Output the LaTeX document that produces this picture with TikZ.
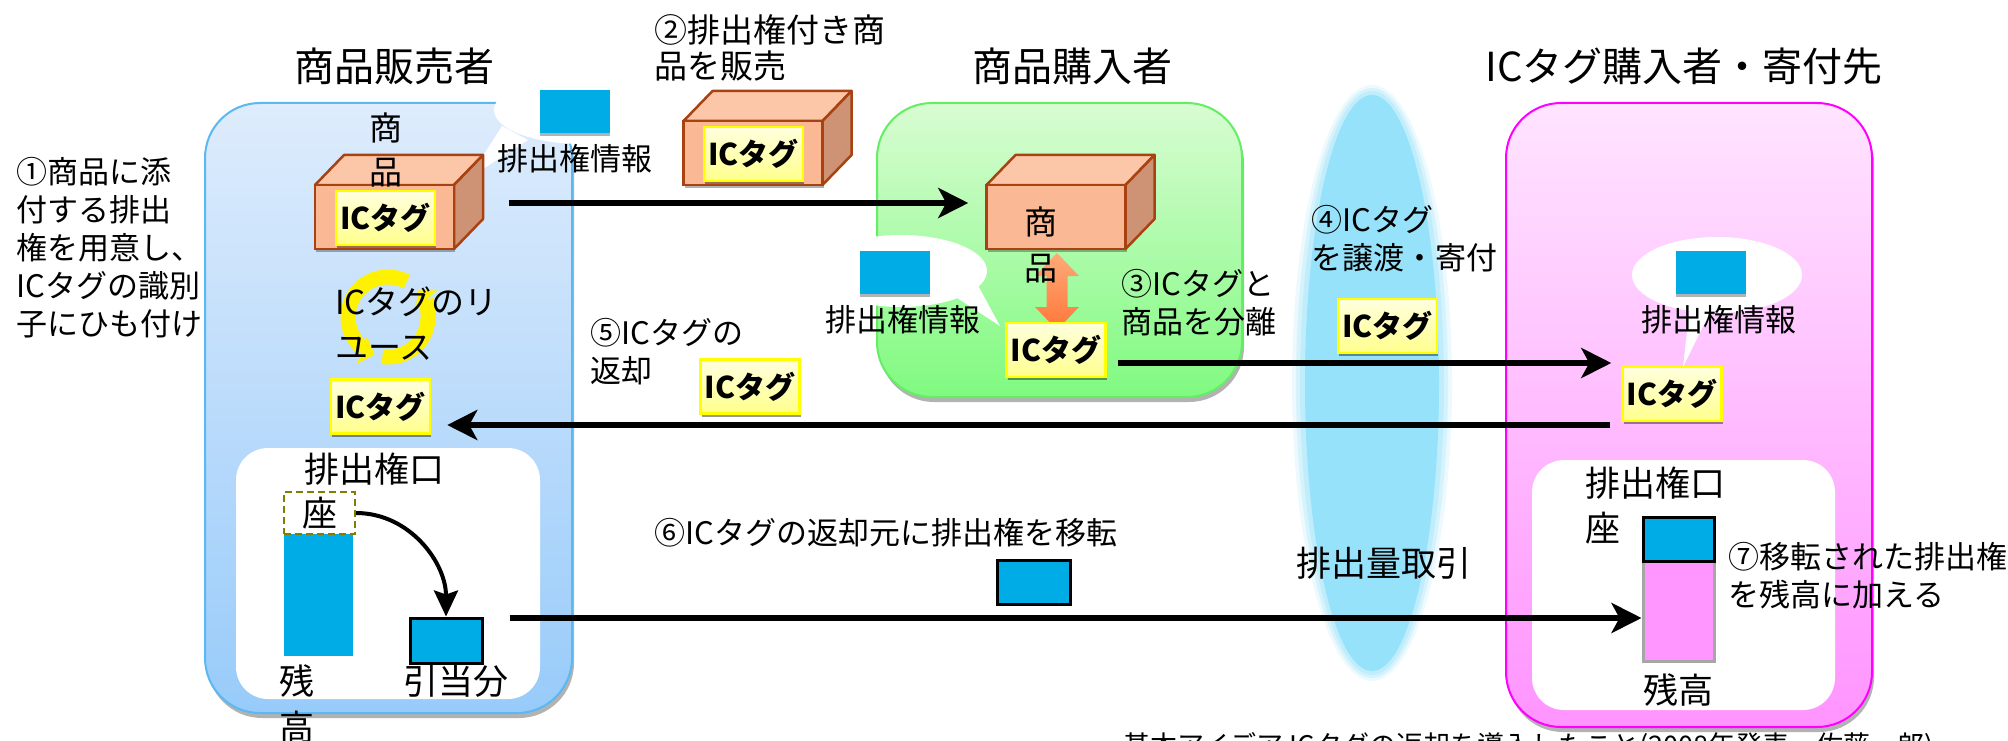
\documentclass[tikz,border=0pt]{standalone}
\usepackage{fontspec}
\setmainfont{Noto Sans CJK JP}
\usetikzlibrary{arrows.meta,shadows}

\definecolor{sellertop}{RGB}{222,236,252}
\definecolor{sellerbot}{RGB}{152,203,250}
\definecolor{selleredge}{RGB}{90,184,242}
\definecolor{buyertop}{RGB}{216,252,210}
\definecolor{buyerbot}{RGB}{128,250,128}
\definecolor{buyeredge}{RGB}{100,238,100}
\definecolor{donortop}{RGB}{255,228,255}
\definecolor{donorbot}{RGB}{255,148,255}
\definecolor{donoredge}{RGB}{255,0,255}
\definecolor{creditblue}{RGB}{0,172,230}
\definecolor{tagtop}{RGB}{255,255,222}
\definecolor{tagbot}{RGB}{255,255,140}
\definecolor{tagedge}{RGB}{255,255,0}
\definecolor{prodfront}{RGB}{251,184,148}
\definecolor{prodtop}{RGB}{252,198,168}
\definecolor{prodside}{RGB}{206,146,116}
\definecolor{prodedge}{RGB}{168,66,16}
\definecolor{market}{RGB}{150,226,250}
\definecolor{balancepink}{RGB}{255,150,255}
\definecolor{olivedash}{RGB}{128,128,0}
\definecolor{sepA}{RGB}{255,170,120}
\definecolor{sepB}{RGB}{255,118,58}

\newcommand\setfs[2]{\fontsize{#1}{#2}\selectfont}

\tikzset{
  party/.style={rounded corners=55pt, line width=2pt,
    drop shadow={shadow xshift=2pt, shadow yshift=-5pt, opacity=0.3, fill=black}},
  acctbox/.style={fill=white, rounded corners=32pt},
  heading/.style={font=\setfs{40}{44}, inner sep=0pt},
  lbl/.style={font=\setfs{31}{38}, inner sep=0pt, align=left, anchor=west},
  big/.style={font=\setfs{35}{45}, inner sep=0pt, align=center},
  tag/.style={rectangle, minimum width=99pt, minimum height=54pt, inner sep=0pt,
    top color=tagtop, bottom color=tagbot, draw=tagedge, line width=2.5pt,
    font=\setfs{30}{32}\bfseries,
    drop shadow={shadow xshift=1pt, shadow yshift=-3pt, opacity=0.4, fill=black}},
  chip/.style={rectangle, fill=creditblue, minimum width=70pt, minimum height=43pt,
    inner sep=0pt,
    drop shadow={shadow xshift=0pt, shadow yshift=-3pt, opacity=0.3, fill=black}},
  chipframed/.style={rectangle, fill=creditblue, draw=black, line width=3pt,
    minimum width=70pt, minimum height=43pt, inner sep=0pt},
  prodface/.style={rectangle, minimum width=139pt, minimum height=64pt, inner sep=0pt,
    fill=prodfront, draw=prodedge, line width=2.5pt,
    drop shadow={shadow xshift=1pt, shadow yshift=-3pt, opacity=0.3, fill=black}},
  prodpart/.style={draw=prodedge, line width=2.5pt, line join=round},
  flow/.style={line width=6pt, -{Stealth[length=30pt,width=30pt,inset=8pt]}},
  bendflow/.style={line width=4pt, -{Stealth[length=26pt,width=24pt,inset=4pt]}},
  ring/.style={draw=yellow, line width=15pt},
  product/.pic={
    \path[prodpart, fill=prodtop]
      (-69.5,-32) -- ++(29,-30) -- ++(139,0) -- ++(-29,30) -- cycle;
    \path[prodpart, fill=prodside]
      (69.5,-32) -- ++(29,-30) -- ++(0,64) -- ++(-29,30) -- cycle;
    \node[prodface] (-front) at (0,0) {};
  }
}

\begin{document}
\begin{tikzpicture}[x=1pt, y=-1pt]
\useasboundingbox (0,0) rectangle (2008,741);
\fill[white] (0,0) rectangle (2008,741);

% emission trading market, with a soft rim
\fill[market, opacity=0.18] (1372,383) ellipse [x radius=80pt, y radius=298pt];
\fill[market, opacity=0.25] (1372,383) ellipse [x radius=76pt, y radius=295pt];
\fill[market, opacity=0.35] (1372,383) ellipse [x radius=72pt, y radius=292pt];
\fill[market] (1372,383) ellipse [x radius=67pt, y radius=288pt];
\node[big] (marketlbl) at (1384,563) {排出量取引};

% the three parties
\path[party, top color=sellertop, bottom color=sellerbot, draw=selleredge]
  (205,103) rectangle (572,713);
\path[party, top color=buyertop, bottom color=buyerbot, draw=buyeredge]
  (877,103) rectangle (1242,397);
\path[party, top color=donortop, bottom color=donorbot, draw=donoredge]
  (1506,103) rectangle (1872,727);

\node[heading] (tSeller) at (394,66) {商品販売者};
\node[heading] (tBuyer) at (1072,66) {商品購入者};
\node[heading] (tDonor) at (1684,66) {ICタグ購入者・寄付先};

% emission accounts
\path[acctbox] (236,448) rectangle (540,699);
\path[acctbox] (1532,460) rectangle (1835,710);

% callouts carrying the emission credit
\fill[white] (582,110) ellipse [x radius=88pt, y radius=34pt];
\fill[white] (502,126) -- (528,140) -- (469,178) -- cycle;
\fill[white] (901,271) ellipse [x radius=86pt, y radius=36pt];
\fill[white] (948,292) -- (975,280) -- (1000,326) -- cycle;
\fill[white] (1717,275) ellipse [x radius=85pt, y radius=38pt];
\fill[white] (1690,305) -- (1712,308) -- (1683,367) -- cycle;

\node[chip] (infoS) at (575,112) {};
\node[chip] (infoB) at (895,272.5) {};
\node[chip] (infoD) at (1711,272.5) {};
\node[lbl, anchor=center] (infoSlbl) at (575,159) {排出権情報};
\node[lbl, anchor=center] (infoBlbl) at (903,320) {排出権情報};
\node[lbl, anchor=center] (infoDlbl) at (1719,320) {排出権情報};

% tag reuse cycle
\coordinate (ringc) at (388,317);
\draw[ring, -{Triangle[length=13pt,width=28pt]}]
  ([shift={(62:40pt)}]ringc) arc[start angle=62, end angle=250, radius=40pt];
\draw[ring, -{Triangle[length=13pt,width=28pt]}]
  ([shift={(262:40pt)}]ringc) arc[start angle=262, end angle=402, radius=40pt];

% goods
\pic (prodS) at (384.5,217) {product};
\pic (prodT) at (753,153) {product};
\pic (prodB) at (1056,217) {product};

% separating tag and goods
\path[top color=sepA, bottom color=sepB]
  (1057,253) -- (1079,276) -- (1067.5,276) -- (1067.5,307) -- (1079,307)
  -- (1057,330) -- (1035,307) -- (1046.5,307) -- (1046.5,276) -- (1035,276) -- cycle;

% IC tags
\node[tag] (tagS) at (385.5,218) {ICタグ};
\node[tag] (tagT) at (753.5,154) {ICタグ};
\node[tag] (tagB) at (1056,350) {ICタグ};
\node[tag] (tagRet) at (750,386.5) {ICタグ};
\node[tag] (tagHome) at (380.5,406.5) {ICタグ};
\node[tag] (tagGift) at (1387.5,326) {ICタグ};
\node[tag] (tagD) at (1672,394) {ICタグ};

\node[big, font=\setfs{33}{44}] (goodsS) at (386,149.5) {商\\品};
\node[big, font=\setfs{33}{46}] (goodsB) at (1041,244.5) {商\\品};

% seller account
\node[big] (acctS) at (374,469) {排出権口};
\node[rectangle, fill=creditblue, minimum width=69pt, minimum height=122pt,
  inner sep=0pt] (barS) at (318.5,595) {};
\node[big, draw=olivedash, dash pattern=on 7pt off 4pt, line width=2pt,
  minimum width=71pt, minimum height=42pt] (zaS) at (319.5,513) {座};
\node[big, font=\setfs{35}{46}] (zanS) at (297,704) {残\\高};
\node[chipframed, minimum width=72pt, minimum height=45pt] (hikiS) at (446,640.5) {};
\node[big] (hikiSlbl) at (456,681) {引当分};
\draw[bendflow] (zaS.east) to[out=0, in=90] (hikiS.north);

% recipient account
\node[big, anchor=west, align=left] (acctD) at (1585,505.5) {排出権口\\座};
\node[rectangle, fill=balancepink, draw=gray!70, line width=3pt, minimum width=71pt,
  minimum height=100pt, inner sep=0pt] (barD) at (1678.5,611) {};
\node[chipframed, minimum width=71pt, minimum height=44pt] (chipD) at (1678.5,539) {};
\node[big] (zanD) at (1678,690) {残高};

% credit in transfer
\node[chipframed, minimum width=73pt, minimum height=44pt] (chipMove) at (1033.5,582) {};

% flows
\draw[flow] ([shift={(54,-14)}]prodS-front.east) -- ([shift={(-17,-14)}]prodB-front.west);
\draw[flow] ([shift={(11,13)}]tagB.east) -- ([shift={(-10,-31)}]tagD.west);
\draw[flow] ([shift={(-11,31)}]tagD.west) -- ([shift={(16,18.5)}]tagHome.east);
\draw[flow] ([shift={(26,-22.5)}]hikiS.east) -- ([shift={(0,7)}]barD.west);

% step descriptions
\node[lbl] (step1) at (16,247.5) {①商品に添\\付する排出\\権を用意し、\\ICタグの識別\\子にひも付け};
\node[lbl, font=\setfs{33}{36}] (step2) at (654,48) {②排出権付き商\\品を販売};
\node[lbl] (step3) at (1121,303) {③ICタグと\\商品を分離};
\node[lbl] (step4) at (1311,238.5) {④ICタグ\\を譲渡・寄付};
\node[lbl] (step5) at (590,352) {⑤ICタグの\\返却};
\node[lbl] (step6) at (654,533) {⑥ICタグの返却元に排出権を移転};
\node[lbl] (step7) at (1728,575.5) {⑦移転された排出権\\を残高に加える};
\node[lbl, font=\setfs{33}{45}] (reuse) at (335,323.5) {ICタグのリ\\ユース};

\node[font=\setfs{27}{30}, anchor=base west, inner sep=0pt] (note) at (1123,755)
  {基本アイデア\ ICタグの返却を導入したこと(2008年発表、佐藤一郎)};
\end{tikzpicture}
\end{document}
